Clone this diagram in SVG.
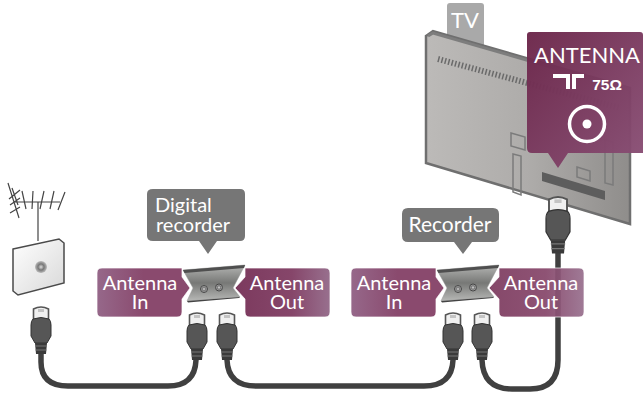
<svg xmlns="http://www.w3.org/2000/svg" width="643" height="396" viewBox="0 0 643 396">
<style>
text{font-family:Lato,"Open Sans",sans-serif;fill:#fff;text-anchor:middle}
.lb{font-size:20px}
.cable{fill:none;stroke:#404040;stroke-width:5.5;stroke-linecap:round}
.ant{stroke:#444;stroke-width:1.2;fill:none}
.tag{stroke:#fff;stroke-width:1;stroke-opacity:.7}
</style>
<defs>
<linearGradient id="pl" x1="0" y1="0" x2="1" y2="0"><stop offset="0" stop-color="#96688a"/><stop offset=".5" stop-color="#8a4a6e"/><stop offset="1" stop-color="#8a4a6e"/></linearGradient>
<linearGradient id="pr" x1="0" y1="0" x2="1" y2="0"><stop offset="0" stop-color="#7c3a5e"/><stop offset=".6" stop-color="#86466a"/><stop offset="1" stop-color="#98708e"/></linearGradient>
<linearGradient id="pl2" x1="0" y1="0" x2="1" y2="1"><stop offset="0" stop-color="#6b2549"/><stop offset="1" stop-color="#8a5076"/></linearGradient>
<linearGradient id="tvg" x1="0" y1="0" x2="1" y2="0"><stop offset="0" stop-color="#bcbab8"/><stop offset=".5" stop-color="#aeacaa"/><stop offset="1" stop-color="#8f8d8b"/></linearGradient>
<linearGradient id="dev" x1="0" y1="0" x2="0" y2="1"><stop offset="0" stop-color="#b4b5b3"/><stop offset=".5" stop-color="#777876"/><stop offset="1" stop-color="#b8b9b7"/></linearGradient>
<linearGradient id="wall" x1="0" y1="0" x2="1" y2="1"><stop offset="0" stop-color="#fff"/><stop offset="1" stop-color="#d8d8d8"/></linearGradient>
<radialGradient id="jack"><stop offset="0" stop-color="#ddd"/><stop offset=".5" stop-color="#777"/><stop offset="1" stop-color="#bbb"/></radialGradient>
<g id="plug">
<path d="M-7.500,2 Q0,-2 7.500,2 V14 H-7.500Z" fill="#f0f0f0" stroke="#555" stroke-width="1.600"/>
<path d="M-3,2H3V5H-3Z" fill="#c4c4c4"/>
<path d="M-8,12 Q0,9 8,12 Q10,14 10,18 V29 L6,36 H-6 L-10,29 V18 Q-10,14 -8,12Z" fill="#565656" stroke="#333"/>
<path d="M-6,36H6L5,47H-5Z" fill="#3a3a3a"/>
<path d="M-6,39H6M-5.500,43H5.500" stroke="#777"/>
</g>
<g id="device">
<path d="M0,5 L62,0 L50,23 L57,32 L4,36 L10,23Z" fill="url(#dev)" stroke="#999" stroke-width=".5"/>
<path d="M0,5 L62,0 L61,3 L1.500,8Z" fill="#4f4f4f"/>
<path d="M4,36 L57,32 L56,33 L5,37.500Z" fill="#444"/>
<circle cx="21" cy="24" r="3.500" fill="url(#jack)" stroke="#444"/>
<circle cx="36" cy="22.500" r="3.500" fill="url(#jack)" stroke="#444"/>
</g>
</defs>

<g id="tv">
<path d="M447,6 Q447,3 450,3 H481 Q484,3 484,6 V50 H447Z" fill="#a9a9a9"/>
<text x="465" y="28" style="font-size:22px">TV</text>
<path d="M426,36 L433,31 L630,88 V224 L426,163Z" fill="url(#tvg)" stroke="#6f6f6f" stroke-width="2.500"/>
<path d="M428,36 L433,33 L630,90" fill="none" stroke="#7d7d7d" stroke-width="3"/>
<path d="M438,59 L620,108" stroke="#6a6a6a" stroke-width="6" stroke-dasharray="1.500 2" fill="none"/>
<path d="M511,133 L525,137 V150 L511,146Z M513,154 L521,156 V195 L513,192Z M605,140 L613,142 V185 L605,183Z M577,167 L590,171 V181 L577,177Z" fill="none" stroke="#7b7b7b" stroke-width="1.500"/>
<path d="M542,172 L605,191 V200 L542,181Z" fill="#5d5d5d"/>
</g>

<g id="connectors">
<path class="cable" d="M41,352 V362 Q41,386 68,386 H168 Q195,386 196,360"/>
<path class="cable" d="M227,360 Q228,386 256,386 H424 Q452,386 453,360"/>
<path class="cable" d="M482,360 Q483,389 512,389 H530 Q558,389 558,360 V250"/>
</g>

<g id="antenna">
<path class="ant" d="M38,202 V241" stroke-width="1.500"/>
<path class="ant" d="M15,202 H60" stroke-width="2"/>
<path class="ant" d="M8,183 L19,218 M12,188 L18,205 M9,199 L20,190 M10,205 L20,198 M10,213 L20,207 M22,191 L26,209 M33,191 L32,209 M44,191 L40,209 M54,191 L50,209 M65,192 L58,210"/>
</g>
<g id="wall-socket">
<path d="M13,249 L59,239 L64,243 V283 L18,295 L13,291Z" fill="url(#wall)" stroke="#4a4a4a" stroke-width="1.500"/>
<circle cx="41" cy="267" r="6" fill="url(#jack)"/>
</g>

<g id="plug-1"><use href="#plug" x="41" y="307"/></g>
<g id="plug-2"><use href="#plug" x="197" y="313"/></g>
<g id="plug-3"><use href="#plug" x="227" y="313"/></g>
<g id="plug-4"><use href="#plug" x="453" y="313"/></g>
<g id="plug-5"><use href="#plug" x="482" y="313"/></g>
<g id="plug-6"><use href="#plug" transform="translate(558 197) scale(1.200)"/></g>

<g id="digital-recorder">
<path d="M153,189 H240 Q245,189 245,194 V236 Q245,241 240,241 H217 L208,254 L199,241 H153 Q147,241 147,236 V194 Q147,189 153,189Z" fill="#767676"/>
<text class="lb" style="text-anchor:start"><tspan x="155" y="212">Digital</tspan><tspan x="156" y="232">recorder</tspan></text>
<use href="#device" x="183" y="265"/>
</g>
<g id="recorder">
<path d="M408,208 H493 Q499,208 499,214 V236 Q499,242 493,242 H472 L463,254 L454,242 H408 Q402,242 402,236 V214 Q402,208 408,208Z" fill="#767676"/>
<text x="450" y="232" style="font-size:21px">Recorder</text>
<use href="#device" x="437" y="265"/>
</g>

<g id="in-1">
<path class="tag" d="M102,268 H182 V277 L190,288 L182,299 V312 Q182,317 177,317 H102 Q97,317 97,312 V273 Q97,268 102,268Z" fill="url(#pl)"/>
<text class="lb"><tspan x="140" y="290">Antenna</tspan><tspan x="140" y="309">In</tspan></text>
</g>
<g id="out-1">
<path class="tag" d="M245,268 H325 Q330,268 330,273 V312 Q330,317 325,317 H250 Q245,317 245,312 V299 L235,288 L245,277Z" fill="url(#pr)"/>
<text class="lb"><tspan x="287" y="290">Antenna</tspan><tspan x="287" y="309">Out</tspan></text>
</g>
<g id="in-2">
<path class="tag" d="M356,268 H436 V277 L444,288 L436,299 V312 Q436,317 431,317 H356 Q351,317 351,312 V273 Q351,268 356,268Z" fill="url(#pl)"/>
<text class="lb"><tspan x="394" y="290">Antenna</tspan><tspan x="394" y="309">In</tspan></text>
</g>
<g id="out-2">
<path class="tag" d="M499,268 H579 Q584,268 584,273 V312 Q584,317 579,317 H504 Q499,317 499,312 V299 L489,288 L499,277Z" fill="url(#pr)" fill-opacity=".93"/>
<text class="lb"><tspan x="541" y="290">Antenna</tspan><tspan x="541" y="309">Out</tspan></text>
</g>

<g id="antenna-callout">
<path d="M530,32 H640 Q643,32 643,35 V153 H568 L558,168 L548,153 H532 Q527,153 527,148 V35 Q527,32 530,32Z" fill="url(#pl2)" fill-opacity=".96"/>
<text x="587" y="63" style="font-size:22px">ANTENNA</text>
<path d="M553,74 H570 V89 H566 V78 H553Z M572,74 H584 V78 H576 V89 H572Z" fill="#fff"/>
<text x="607" y="90" style="font-size:15.500px;font-weight:700;font-family:'Liberation Sans',sans-serif">75Ω</text>
<circle cx="587" cy="124" r="17.500" fill="none" stroke="#fff" stroke-width="3.500"/>
<circle cx="587" cy="124" r="4.500" fill="#fff"/>
</g>
</svg>
